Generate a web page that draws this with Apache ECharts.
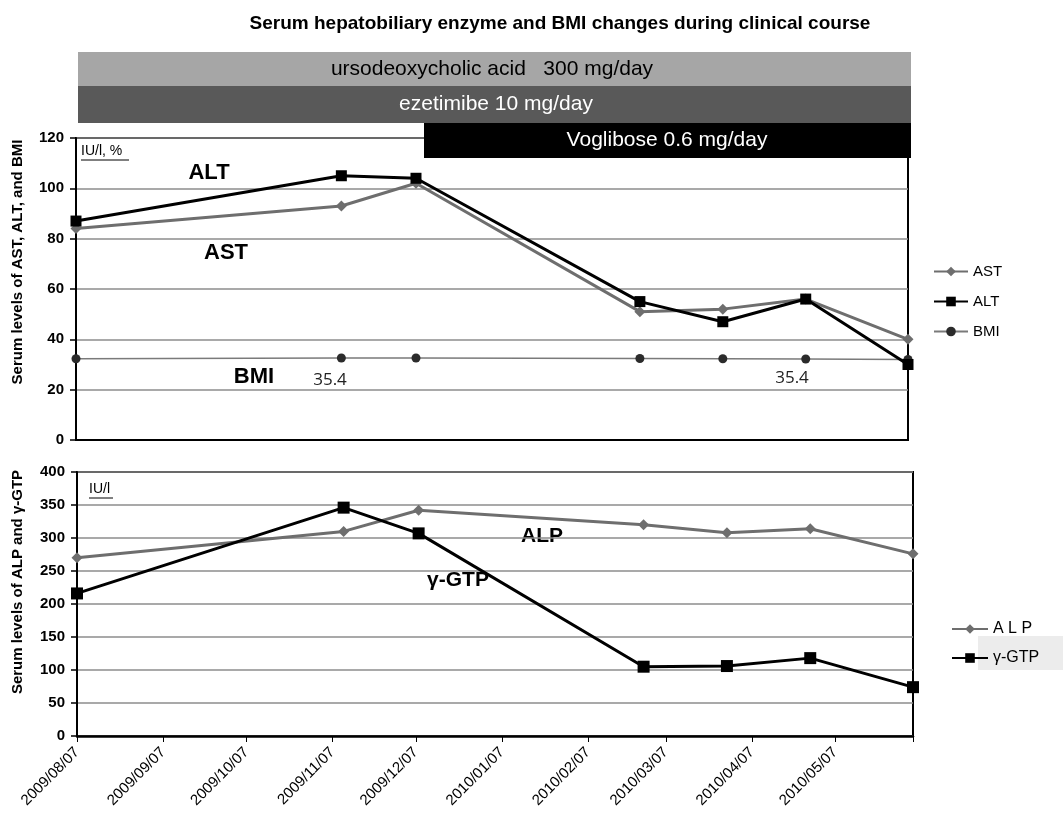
<!DOCTYPE html>
<html>
<head>
<meta charset="utf-8">
<script src="https://cdn.jsdelivr.net/npm/echarts@6/dist/echarts.min.js"></script>
<style>
html, body { margin: 0; padding: 0; background: #fff; }
#chart { width: 1063px; height: 814px; }
</style>
</head>
<body>
<div id="chart"></div>
<script>
// visit dates and lab values
var visitDates = ['2009-08-07', '2009-11-11', '2009-12-08', '2010-02-27', '2010-03-29', '2010-04-28', '2010-06-04'];
var astValues = [84, 93, 102, 51, 52, 56, 40];
var altValues = [87, 105, 104, 55, 47, 56, 30];
var bmiValues = [32.3, 32.6, 32.6, 32.4, 32.3, 32.2, 32.0];
var alpValues = [270, 310, 342, 320, 308, 314, 276];
var gtpValues = [216, 346, 307, 105, 106, 118, 74];
var tickLabels = ['2009/08/07', '2009/09/07', '2009/10/07', '2009/11/07', '2009/12/07',
                  '2010/01/07', '2010/02/07', '2010/03/07', '2010/04/07', '2010/05/07'];

// dates are kept as day numbers on a value axis
function toDay(s) {
    var p = s.split(/[-\/]/);
    return Math.round(Date.UTC(+p[0], +p[1] - 1, +p[2]) / 86400000);
}
function pad(n) { return n < 10 ? '0' + n : '' + n; }
function pairs(vals) {
    return visitDates.map(function (d, i) { return [toDay(d), vals[i]]; });
}

var tickDays = tickLabels.map(toDay);
var xMin = toDay(visitDates[0]);
var xMax = toDay(visitDates[visitDates.length - 1]);
var FONT = 'Liberation Sans, Arial, sans-serif';

var myChart = echarts.init(document.getElementById('chart'));

var yCommon = {
    type: 'value',
    axisLine: { show: true, lineStyle: { color: '#000', width: 2 } },
    axisTick: { show: true, length: 6, lineStyle: { color: '#000', width: 1.5 } },
    axisLabel: { color: '#000', fontWeight: 'bold', fontSize: 15, fontFamily: FONT, margin: 12 },
    splitLine: { show: true, lineStyle: { color: '#8c8c8c', width: 1.5 } }
};

myChart.setOption({
    animation: false,
    backgroundColor: '#fff',
    title: {
        text: 'Serum hepatobiliary enzyme and BMI changes during clinical course',
        left: 555, top: 9, textAlign: 'center',
        textStyle: { fontSize: 19, fontWeight: 'bold', fontFamily: FONT, color: '#000' }
    },
    grid: [
        { left: 76, top: 138, width: 832, height: 302, show: true, borderColor: '#000', borderWidth: 2, backgroundColor: 'transparent' },
        { left: 77, top: 472, width: 836, height: 264, show: true, borderColor: '#000', borderWidth: 2, backgroundColor: 'transparent' }
    ],
    legend: [
        {
            data: ['AST', 'ALT', 'BMI'],
            orient: 'vertical', left: 928, top: 259,
            itemWidth: 34, itemHeight: 12, itemGap: 15,
            textStyle: { fontSize: 15, fontFamily: FONT, color: '#000' }
        },
        {
            data: ['A L P', 'γ-GTP'],
            orient: 'vertical', left: 946, top: 616,
            itemWidth: 36, itemHeight: 12, itemGap: 13,
            textStyle: { fontSize: 16, fontFamily: FONT, color: '#000' }
        }
    ],
    xAxis: [
        {
            type: 'value', gridIndex: 0, min: xMin, max: xMax,
            axisLine: { show: true, lineStyle: { color: '#000', width: 2 } },
            axisTick: { show: false }, axisLabel: { show: false }, splitLine: { show: false }
        },
        {
            type: 'value', gridIndex: 1, min: xMin, max: xMax,
            axisLine: { show: true, lineStyle: { color: '#000', width: 2.5 } },
            axisTick: { show: true, length: 6, customValues: tickDays.concat([xMax]), lineStyle: { color: '#000', width: 1 } },
            axisLabel: {
                customValues: tickDays, rotate: 45, fontSize: 15, fontFamily: FONT, color: '#000', margin: 14,
                formatter: function (v) {
                    var d = new Date(v * 86400000);
                    return d.getUTCFullYear() + '/' + pad(d.getUTCMonth() + 1) + '/' + pad(d.getUTCDate());
                }
            },
            splitLine: { show: false }
        }
    ],
    yAxis: [
        Object.assign({}, yCommon, { gridIndex: 0, min: 0, max: 120, interval: 20 }),
        Object.assign({}, yCommon, { gridIndex: 1, min: 0, max: 400, interval: 50 })
    ],
    series: [
        {
            name: 'AST', type: 'line', xAxisIndex: 0, yAxisIndex: 0, data: pairs(astValues),
            symbol: 'diamond', symbolSize: 11, z: 3,
            lineStyle: { color: '#6e6e6e', width: 3 }, itemStyle: { color: '#6e6e6e' }
        },
        {
            name: 'ALT', type: 'line', xAxisIndex: 0, yAxisIndex: 0, data: pairs(altValues),
            symbol: 'rect', symbolSize: 11, z: 4,
            lineStyle: { color: '#000', width: 3 }, itemStyle: { color: '#000' }
        },
        {
            name: 'BMI', type: 'line', xAxisIndex: 0, yAxisIndex: 0, data: pairs(bmiValues),
            symbol: 'circle', symbolSize: 9, z: 2,
            lineStyle: { color: '#7a7a7a', width: 1.5 }, itemStyle: { color: '#2b2b2b' }
        },
        {
            name: 'A L P', type: 'line', xAxisIndex: 1, yAxisIndex: 1, data: pairs(alpValues),
            symbol: 'diamond', symbolSize: 11, z: 3,
            lineStyle: { color: '#6e6e6e', width: 3 }, itemStyle: { color: '#6e6e6e' }
        },
        {
            name: 'γ-GTP', type: 'line', xAxisIndex: 1, yAxisIndex: 1, data: pairs(gtpValues),
            symbol: 'rect', symbolSize: 12, z: 4,
            lineStyle: { color: '#000', width: 3 }, itemStyle: { color: '#000' }
        }
    ],
    graphic: [
        // treatment banners
        { type: 'rect', shape: { x: 78, y: 52, width: 833, height: 34 }, style: { fill: '#a6a6a6' }, z: 50 },
        { type: 'rect', shape: { x: 78, y: 86, width: 833, height: 37 }, style: { fill: '#595959' }, z: 50 },
        { type: 'rect', shape: { x: 424, y: 123, width: 487, height: 35 }, style: { fill: '#000' }, z: 50 },
        { type: 'text', x: 492, y: 69, z: 51, style: { text: 'ursodeoxycholic acid   300 mg/day', fill: '#000', font: '21px ' + FONT, align: 'center', verticalAlign: 'middle' } },
        { type: 'text', x: 496, y: 104, z: 51, style: { text: 'ezetimibe 10 mg/day', fill: '#fff', font: '21px ' + FONT, align: 'center', verticalAlign: 'middle' } },
        { type: 'text', x: 667, y: 140, z: 51, style: { text: 'Voglibose 0.6 mg/day', fill: '#fff', font: '21px ' + FONT, align: 'center', verticalAlign: 'middle' } },
        // y axis names
        { type: 'text', x: 18, y: 262, rotation: Math.PI / 2, style: { text: 'Serum levels of AST, ALT, and BMI', fill: '#000', font: 'bold 15px ' + FONT, align: 'center', verticalAlign: 'middle' } },
        { type: 'text', x: 18, y: 582, rotation: Math.PI / 2, style: { text: 'Serum levels of ALP and γ-GTP', fill: '#000', font: 'bold 15px ' + FONT, align: 'center', verticalAlign: 'middle' } },
        // units
        { type: 'text', x: 81, y: 151, style: { text: 'IU/l, %', fill: '#000', font: '14px ' + FONT, verticalAlign: 'middle' } },
        { type: 'line', shape: { x1: 81, y1: 160, x2: 129, y2: 160 }, style: { stroke: '#000', lineWidth: 1 } },
        { type: 'text', x: 89, y: 489, style: { text: 'IU/l', fill: '#000', font: '14px ' + FONT, verticalAlign: 'middle' } },
        { type: 'line', shape: { x1: 89, y1: 498, x2: 113, y2: 498 }, style: { stroke: '#000', lineWidth: 1 } },
        // series annotations
        { type: 'text', x: 209, y: 173, style: { text: 'ALT', fill: '#000', font: 'bold 22px ' + FONT, align: 'center', verticalAlign: 'middle' } },
        { type: 'text', x: 226, y: 253, style: { text: 'AST', fill: '#000', font: 'bold 22px ' + FONT, align: 'center', verticalAlign: 'middle' } },
        { type: 'text', x: 254, y: 377, style: { text: 'BMI', fill: '#000', font: 'bold 22px ' + FONT, align: 'center', verticalAlign: 'middle' } },
        { type: 'text', x: 330, y: 380, style: { text: '35.4', fill: '#222', font: '17px Open Sans, sans-serif', align: 'center', verticalAlign: 'middle' } },
        { type: 'text', x: 792, y: 378, style: { text: '35.4', fill: '#222', font: '17px Open Sans, sans-serif', align: 'center', verticalAlign: 'middle' } },
        { type: 'text', x: 542, y: 536, style: { text: 'ALP', fill: '#000', font: 'bold 21px ' + FONT, align: 'center', verticalAlign: 'middle' } },
        { type: 'text', x: 458, y: 580, style: { text: 'γ-GTP', fill: '#000', font: 'bold 21px ' + FONT, align: 'center', verticalAlign: 'middle' } },
        // legend highlight box
        { type: 'rect', shape: { x: 978, y: 636, width: 85, height: 34 }, style: { fill: '#ececec' }, z: -1 }
    ]
});
</script>
</body>
</html>
